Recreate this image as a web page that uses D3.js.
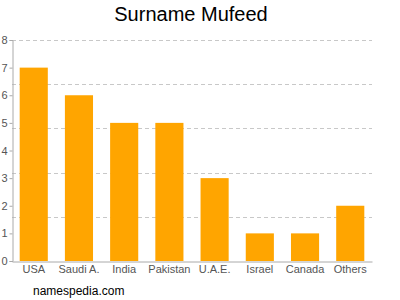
<!DOCTYPE html>
<html>
<head>
<meta charset="utf-8">
<script src="https://cdn.jsdelivr.net/npm/d3@7"></script>
<style>
  body { margin: 0; background: #fff; }
  svg { font-family: "Liberation Sans", Arial, sans-serif; }
</style>
</head>
<body>
<div id="chart"></div>
<script>
// data
var countries = ["USA", "Saudi A.", "India", "Pakistan", "U.A.E.", "Israel", "Canada", "Others"];
var counts = [7, 6, 5, 5, 3, 1, 1, 2];
var yTickValues = [0, 1, 2, 3, 4, 5, 6, 7, 8];
var gridValues = [1.6, 3.2, 4.8, 6.4, 8];

var width = 400, height = 300;
var plotLeft = 12, plotRight = 372, plotTop = 40, plotBottom = 261;

var svg = d3.select("#chart")
    .append("svg")
    .attr("width", width)
    .attr("height", height);

var x = d3.scaleBand()
    .domain(countries)
    .range([plotLeft, plotRight])
    .paddingInner(0.378)
    .paddingOuter(0.17);

var y = d3.scaleLinear()
    .domain([0, 8])
    .range([plotBottom, plotTop]);

// title
svg.append("text")
    .attr("x", 191)
    .attr("y", 21)
    .attr("text-anchor", "middle")
    .style("font-size", "20px")
    .style("fill", "#000")
    .text("Surname Mufeed");

// dashed grid
svg.selectAll("line.grid")
    .data(gridValues)
    .enter()
    .append("line")
    .attr("class", "grid")
    .attr("x1", plotLeft)
    .attr("x2", plotRight)
    .attr("y1", function(d) { return Math.round(y(d)) + 0.5; })
    .attr("y2", function(d) { return Math.round(y(d)) + 0.5; })
    .style("stroke", "#c8c8c8")
    .style("stroke-dasharray", "4,3");

// bars
svg.selectAll("rect.bar")
    .data(counts)
    .enter()
    .append("rect")
    .attr("class", "bar")
    .attr("x", function(d, i) { return x(countries[i]); })
    .attr("width", x.bandwidth())
    .attr("y", function(d) { return y(d); })
    .attr("height", function(d) { return y(0) - y(d); })
    .style("fill", "#ffa500");

// y axis
var yAxis = svg.append("g")
    .attr("transform", "translate(" + (plotLeft + 0.5) + ",0)")
    .call(d3.axisLeft(y).tickValues(yTickValues).tickSize(3).tickPadding(2));
yAxis.select(".domain").style("stroke", "#aaa");
yAxis.selectAll(".tick line").style("stroke", "#aaa");
yAxis.selectAll("text")
    .style("font-size", "11px")
    .style("fill", "#555")
    .style("font-family", "Liberation Sans, Arial, sans-serif");

// x axis
var xAxis = svg.append("g")
    .attr("transform", "translate(0," + (plotBottom + 0.5) + ")")
    .call(d3.axisBottom(x).tickSize(0).tickPadding(4).tickSizeOuter(0));
xAxis.select(".domain").style("stroke", "#aaa");
xAxis.selectAll("text")
    .style("font-size", "11px")
    .style("fill", "#555")
    .style("font-family", "Liberation Sans, Arial, sans-serif");

// footer
svg.append("text")
    .attr("x", 33)
    .attr("y", 295)
    .style("font-size", "12px")
    .style("fill", "#000")
    .text("namespedia.com");
</script>
</body>
</html>
